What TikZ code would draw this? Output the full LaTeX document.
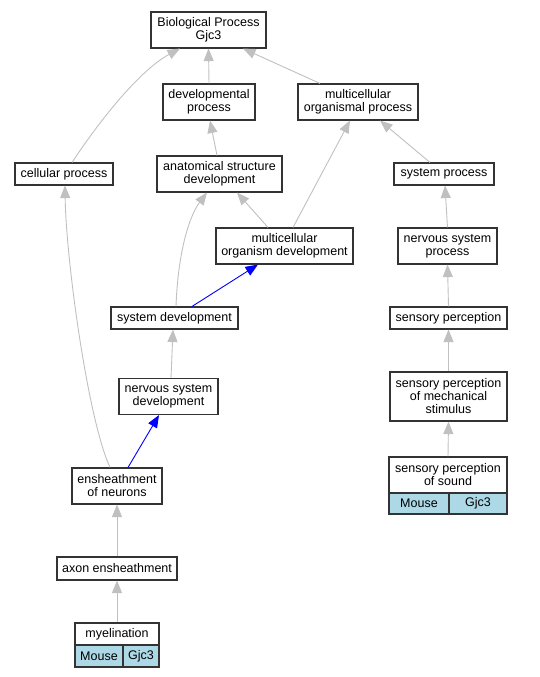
\documentclass[tikz,border=0pt]{standalone}
\usepackage{fontspec}
\setmainfont{Liberation Sans}
\usetikzlibrary{arrows.meta}
\definecolor{edgegray}{HTML}{C0C0C0}
\definecolor{cellblue}{HTML}{ADD8E6}
\newcommand\gofont{\fontsize{12.5}{13}\selectfont}
\begin{document}
\begin{tikzpicture}[x=1pt,y=-1pt,
  term/.style={draw=black!80,line width=1.1pt,fill=white,align=center,inner sep=0pt,font=\gofont},
  box/.style 2 args={term,minimum width=#1,minimum height=#2},
  isa/.style={draw=edgegray,line width=0.9pt,-{Triangle[length=12.5pt,width=10pt,fill=edgegray]}},
  partof/.style={draw=blue,line width=0.9pt,-{Triangle[length=12.5pt,width=10pt,fill=blue]}}]
\useasboundingbox (0,0) rectangle (539,677);
% terms
\node[box={115}{36}] (bp) at (208.5,30) {Biological Process\\Gjc3};
\node[box={92}{36}] (dev) at (209,102) {developmental\\process};
\node[box={120}{36}] (mop) at (358,102) {multicellular\\organismal process};
\node[box={98}{22}] (cp) at (64,174) {cellular process};
\node[box={125}{36}] (asd) at (219.5,174) {anatomical structure\\development};
\node[box={100}{22}] (sp) at (444,174) {system process};
\node[box={137}{36}] (mod) at (284.5,246) {multicellular\\organism development};
\node[box={99}{36}] (nsp) at (447.5,246) {nervous system\\process};
\node[box={127}{22}] (sd) at (174.5,318) {system development};
\node[box={117}{22}] (spc) at (448.5,318) {sensory perception};
\node[box={99}{36}] (nsd) at (168.5,396.5) {nervous system\\development};
\node[box={117}{49}] (spm) at (448.5,396.5) {sensory perception\\of mechanical\\stimulus};
\node[box={90}{36}] (eon) at (117,486) {ensheathment\\of neurons};
\node[box={118}{36}] (sps) at (448,475) {sensory perception\\of sound};
\node[box={60}{21},fill=cellblue] (spsm) at (419,503.5) {Mouse};
\node[box={58}{21},fill=cellblue] (spsg) at (478,503.5) {Gjc3};
\node[box={120}{23}] (ae) at (117,568.5) {axon ensheathment};
\node[box={84}{22}] (mye) at (117,634) {myelination};
\node[box={48}{22},fill=cellblue] (myem) at (99,656) {Mouse};
\node[box={36}{22},fill=cellblue] (myeg) at (141,656) {Gjc3};
% edges
\draw[isa] ([xshift=8]cp.north) .. controls (100,120) and (140,70) .. ([xshift=-28.5]bp.south);
\draw[isa] (dev.north) -- (bp.south);
\draw[isa] ([xshift=-38]mop.north) -- ([xshift=34.5]bp.south);
\draw[isa] ([xshift=-2.5]asd.north) -- ([xshift=1]dev.south);
\draw[isa] ([xshift=8.5]mod.north) -- ([xshift=-8]mop.south);
\draw[isa] ([xshift=-14]sp.north) -- ([xshift=22]mop.south);
\draw[isa] ([xshift=-16.5]mod.north) -- ([xshift=17.5]asd.south);
\draw[isa] ([xshift=1.5]sd.north) .. controls (178,250) and (190,215) .. ([xshift=-12.5]asd.south);
\draw[partof] ([xshift=17.5]sd.north) -- ([xshift=-26.5]mod.south);
\draw[isa] (nsp.north) -- ([xshift=1]sp.south);
\draw[isa] (spc.north) -- (nsp.south);
\draw[isa] (spm.north) -- (spc.south);
\draw[isa] (sps.north) -- (spm.south);
\draw[isa] ([xshift=2.5]nsd.north) -- ([xshift=-1.5]sd.south);
\draw[partof] ([xshift=11]eon.north) -- ([xshift=-9.5]nsd.south);
\draw[isa] ([xshift=-7]eon.north) .. controls (88,420) and (66,260) .. ([xshift=1]cp.south);
\draw[isa] (ae.north) -- (eon.south);
\draw[isa] (mye.north) -- (ae.south);
\end{tikzpicture}
\end{document}
